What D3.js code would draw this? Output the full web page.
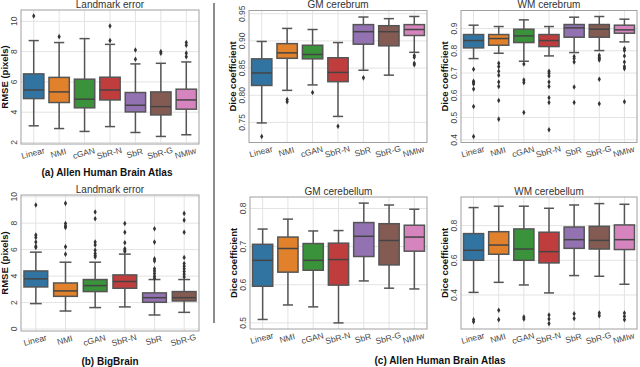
<!DOCTYPE html>
<html>
<head>
<meta charset="utf-8">
<script src="https://cdn.jsdelivr.net/npm/d3@7"></script>
<style>
  body { margin: 0; background: #fff; }
  svg { font-family: "Liberation Sans", Arial, sans-serif; }
</style>
</head>
<body>
<svg width="640" height="367"></svg>
<script>
// categories
const cats7 = ["Linear", "NMI", "cGAN", "SbR-N", "SbR", "SbR-G", "NMIw"];
const cats6 = ["Linear", "NMI", "cGAN", "SbR-N", "SbR", "SbR-G"];
const colors = ["#3274a1", "#e1812c", "#3a923a", "#c03d3e", "#9372b2", "#845b53", "#d684bd"];

// box stats: [low whisker, q1, median, q3, high whisker]
const allenLandmark = [
  [3.10, 4.90, 5.47, 6.53, 8.73],
  [2.92, 4.64, 5.34, 6.30, 8.60],
  [2.73, 4.29, 4.86, 6.18, 8.86],
  [3.05, 4.81, 5.47, 6.31, 8.48],
  [2.66, 4.02, 4.46, 5.30, 7.19],
  [2.40, 3.82, 4.37, 5.34, 7.23],
  [2.51, 4.20, 4.81, 5.52, 7.32]
];
const allenLandmarkOut = [[10.35], [8.99], [], [9.69, 8.73], [8.11, 7.50], [8.00, 7.90], [8.60, 8.42, 7.90, 7.67]];

const bigBrain = [
  [1.92, 3.18, 3.79, 4.39, 5.81],
  [1.36, 2.47, 2.88, 3.48, 5.05],
  [1.62, 2.83, 3.28, 3.74, 5.05],
  [1.67, 3.08, 3.59, 4.09, 5.66],
  [1.06, 2.02, 2.37, 2.73, 3.74],
  [1.26, 2.12, 2.37, 2.83, 3.74]
];
const bigBrainOut = [
  [9.37, 7.10, 6.92, 6.57, 6.26, 6.16],
  [9.50, 7.98, 7.78, 7.68, 6.21, 5.66],
  [8.84, 8.33, 6.57, 6.36, 5.96, 5.71, 5.56, 5.45],
  [7.98, 7.32, 6.52, 6.06, 5.96, 5.86],
  [7.58, 6.57, 5.30, 5.15, 4.55, 4.39, 4.19, 3.99, 3.84],
  [8.74, 8.23, 7.32, 5.40, 4.95, 4.75, 4.55, 4.34, 4.14, 3.94]
];

const gmCerebrum = [
  [0.749, 0.818, 0.841, 0.867, 0.899],
  [0.809, 0.868, 0.878, 0.895, 0.923],
  [0.819, 0.867, 0.875, 0.892, 0.921],
  [0.761, 0.825, 0.842, 0.869, 0.897],
  [0.846, 0.894, 0.917, 0.930, 0.944],
  [0.837, 0.891, 0.917, 0.928, 0.941],
  [0.879, 0.910, 0.921, 0.930, 0.945]
];
const gmCerebrumOut = [[0.724], [0.792, 0.788], [0.805], [0.743], [0.832], [], [0.873, 0.870, 0.859, 0.856]];

const wmCerebrum = [
  [0.765, 0.813, 0.846, 0.873, 0.915],
  [0.789, 0.825, 0.855, 0.873, 0.909],
  [0.753, 0.837, 0.867, 0.897, 0.939],
  [0.777, 0.819, 0.846, 0.873, 0.909],
  [0.792, 0.861, 0.903, 0.918, 0.951],
  [0.801, 0.861, 0.897, 0.918, 0.954],
  [0.840, 0.879, 0.894, 0.915, 0.942]
];
const wmCerebrumOut = [
  [0.717, 0.663, 0.657, 0.651, 0.628, 0.550, 0.415],
  [0.744, 0.729, 0.708, 0.690, 0.660, 0.640, 0.577, 0.493],
  [0.741, 0.669, 0.657, 0.523],
  [0.708, 0.699, 0.687, 0.660, 0.640, 0.589, 0.568, 0.445],
  [0.774, 0.765, 0.750, 0.637, 0.568],
  [0.780, 0.771, 0.765, 0.759, 0.672, 0.562],
  [0.810, 0.801, 0.777, 0.750, 0.729, 0.720, 0.571]
];

const gmCerebellum = [
  [0.509, 0.596, 0.664, 0.706, 0.746],
  [0.547, 0.633, 0.695, 0.725, 0.772],
  [0.542, 0.638, 0.664, 0.708, 0.741],
  [0.500, 0.599, 0.666, 0.709, 0.742],
  [0.610, 0.674, 0.727, 0.763, 0.814],
  [0.591, 0.652, 0.716, 0.760, 0.809],
  [0.589, 0.688, 0.725, 0.756, 0.798]
];
const gmCerebellumOut = [[], [], [], [], [], [], []];

const wmCerebellum = [
  [0.415, 0.600, 0.658, 0.754, 0.904],
  [0.473, 0.635, 0.688, 0.765, 0.912],
  [0.458, 0.600, 0.665, 0.781, 0.912],
  [0.412, 0.585, 0.650, 0.762, 0.900],
  [0.512, 0.669, 0.719, 0.792, 0.919],
  [0.508, 0.665, 0.715, 0.796, 0.927],
  [0.462, 0.662, 0.719, 0.804, 0.923]
];
const wmCerebellumOut = [[0.258, 0.246], [0.312, 0.258], [0.273, 0.262], [0.285, 0.262, 0.235], [0.292, 0.265], [0.296, 0.281], [0.296, 0.277, 0.258]];

const svg = d3.select("svg");

const panels = [
  {x0: 21, x1: 199, y0: 10, y1: 144, dom: [1.9, 10.75], ticks: [2, 4, 6, 8, 10], fmt: d3.format("d"),
   title: "Landmark error", ylab: "RMSE (pixels)", cats: cats7, stats: allenLandmark, out: allenLandmarkOut},
  {x0: 21, x1: 199, y0: 195, y1: 331, dom: [-0.15, 10.13], ticks: [0, 2, 4, 6, 8, 10], fmt: d3.format("d"),
   title: "Landmark error", ylab: "RMSE (pixels)", cats: cats6, stats: bigBrain, out: bigBrainOut},
  {x0: 249, x1: 427, y0: 10.5, y1: 142.5, dom: [0.713, 0.956], ticks: [0.75, 0.8, 0.85, 0.9, 0.95], fmt: d3.format(".2f"),
   title: "GM cerebrum", ylab: "Dice coefficient", cats: cats7, stats: gmCerebrum, out: gmCerebrumOut},
  {x0: 461, x1: 637, y0: 10.5, y1: 142.5, dom: [0.388, 0.981], ticks: [0.4, 0.5, 0.6, 0.7, 0.8, 0.9], fmt: d3.format(".1f"),
   title: "WM cerebrum", ylab: "Dice coefficient", cats: cats7, stats: wmCerebrum, out: wmCerebrumOut},
  {x0: 250, x1: 427, y0: 197, y1: 329, dom: [0.484, 0.830], ticks: [0.5, 0.6, 0.7, 0.8], fmt: d3.format(".1f"),
   title: "GM cerebellum", ylab: "Dice coefficient", cats: cats7, stats: gmCerebellum, out: gmCerebellumOut},
  {x0: 461, x1: 637, y0: 197, y1: 329, dom: [0.204, 0.965], ticks: [0.4, 0.6, 0.8], fmt: d3.format(".1f"),
   title: "WM cerebellum", ylab: "Dice coefficient", cats: cats7, stats: wmCerebellum, out: wmCerebellumOut}
];

panels.forEach(p => {
  const g = svg.append("g");
  const x = d3.scaleBand().domain(p.cats).range([p.x0, p.x1]);
  const y = d3.scaleLinear().domain(p.dom).range([p.y1, p.y0]);
  const bw = x.bandwidth() * 0.8;
  const cx = c => x(c) + x.bandwidth() / 2;

  // grid
  g.selectAll(".hg").data(p.ticks).enter().append("line")
    .attr("x1", p.x0).attr("x2", p.x1)
    .attr("y1", d => y(d)).attr("y2", d => y(d))
    .attr("stroke", "#e3e3e3").attr("stroke-width", 1);
  g.selectAll(".vg").data(p.cats).enter().append("line")
    .attr("x1", d => cx(d)).attr("x2", d => cx(d))
    .attr("y1", p.y0).attr("y2", p.y1)
    .attr("stroke", "#e3e3e3").attr("stroke-width", 1);

  // frame
  g.append("rect")
    .attr("x", p.x0).attr("y", p.y0)
    .attr("width", p.x1 - p.x0).attr("height", p.y1 - p.y0)
    .attr("fill", "none").attr("stroke", "#a0a0a0").attr("stroke-width", 1);

  // y tick labels
  p.ticks.forEach(t => {
    g.append("text")
      .attr("transform", `translate(${p.x0 - 4},${y(t)}) rotate(-90)`)
      .attr("text-anchor", "middle")
      .attr("font-size", 8.5).attr("fill", "#444")
      .text(p.fmt(t));
  });

  // y label
  g.append("text")
    .attr("transform", `translate(${p.x0 - 13},${(p.y0 + p.y1) / 2}) rotate(-90)`)
    .attr("text-anchor", "middle")
    .attr("font-size", 9.5).attr("font-weight", "bold").attr("fill", "#111")
    .text(p.ylab);

  // title
  g.append("text")
    .attr("x", (p.x0 + p.x1) / 2).attr("y", p.y0 - 2.5)
    .attr("text-anchor", "middle")
    .attr("font-size", 10).attr("fill", "#333")
    .text(p.title);

  // x tick labels
  g.selectAll(".xl").data(p.cats).enter().append("text")
    .attr("transform", d => `translate(${cx(d)},${p.y1 + 12}) rotate(-15)`)
    .attr("text-anchor", "middle")
    .attr("font-size", 8.5).attr("fill", "#444")
    .text(d => d);

  // boxes
  p.cats.forEach((c, i) => {
    const s = p.stats[i];
    const xc = cx(c);
    const lc = "#555";
    g.append("line").attr("x1", xc).attr("x2", xc).attr("y1", y(s[0])).attr("y2", y(s[1]))
      .attr("stroke", lc).attr("stroke-width", 1.5);
    g.append("line").attr("x1", xc).attr("x2", xc).attr("y1", y(s[3])).attr("y2", y(s[4]))
      .attr("stroke", lc).attr("stroke-width", 1.5);
    [s[0], s[4]].forEach(v => {
      g.append("line").attr("x1", xc - bw / 4).attr("x2", xc + bw / 4)
        .attr("y1", y(v)).attr("y2", y(v))
        .attr("stroke", lc).attr("stroke-width", 1.5);
    });
    g.append("rect")
      .attr("x", xc - bw / 2).attr("y", y(s[3]))
      .attr("width", bw).attr("height", y(s[1]) - y(s[3]))
      .attr("fill", colors[i]).attr("stroke", lc).attr("stroke-width", 1.5);
    g.append("line").attr("x1", xc - bw / 2).attr("x2", xc + bw / 2)
      .attr("y1", y(s[2])).attr("y2", y(s[2]))
      .attr("stroke", "#444").attr("stroke-width", 1.5);
    g.selectAll(null).data(p.out[i]).enter().append("path")
      .attr("d", d3.symbol(d3.symbolDiamond, 9))
      .attr("transform", d => `translate(${xc},${y(d)})`)
      .attr("fill", "#333");
  });
});

// divider
svg.append("line")
  .attr("x1", 214).attr("x2", 214).attr("y1", 3).attr("y2", 323)
  .attr("stroke", "#666").attr("stroke-width", 1.5);

// captions
const captions = [
  {x: 107, y: 176, t: "(a) Allen Human Brain Atlas"},
  {x: 110, y: 365, t: "(b) BigBrain"},
  {x: 440, y: 364, t: "(c) Allen Human Brain Atlas"}
];
svg.selectAll(".cap").data(captions).enter().append("text")
  .attr("x", d => d.x).attr("y", d => d.y)
  .attr("text-anchor", "middle")
  .attr("font-size", 10).attr("font-weight", "bold").attr("fill", "#111")
  .text(d => d.t);
</script>
</body>
</html>
